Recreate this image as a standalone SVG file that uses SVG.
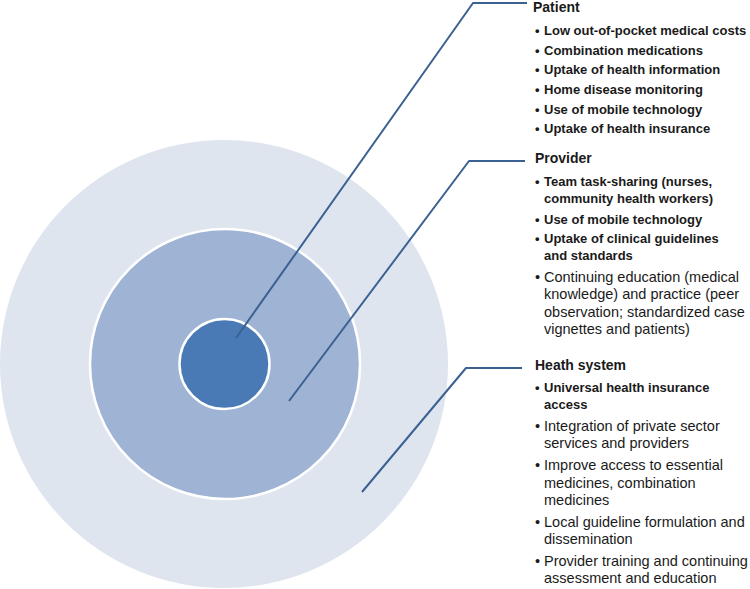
<svg xmlns="http://www.w3.org/2000/svg" width="750" height="589" viewBox="0 0 750 589">
<style>
text{font-family:"Liberation Sans",Arial,sans-serif;fill:#1a1a1a}
.h{font-size:14px;font-weight:bold}
.b{font-size:13px;font-weight:bold}
.r{font-size:14.5px}
.ring{stroke:#ffffff;stroke-width:2.5}
.conn{fill:none;stroke:#3b6192;stroke-width:2;stroke-linejoin:round}
</style>
<rect width="750" height="589" fill="#ffffff"/>
<g id="health-system-ring"><circle cx="224" cy="364" r="224" fill="#dfe5ef"/></g>
<g id="provider-ring"><circle class="ring" cx="225" cy="364" r="135" fill="#9fb3d4"/></g>
<g id="patient-core"><circle class="ring" cx="224.5" cy="364" r="45" fill="#4a7ab5"/></g>
<g id="connectors">
<polyline class="conn" points="236,338 473,3 527,3"/>
<polyline class="conn" points="289,401 469,161 525,161"/>
<polyline class="conn" points="362,492 466,368 522,368"/>
</g>
<g id="patient-label">
<text class="h" x="533" y="12">Patient</text>
<text class="b" x="535" y="35">•<tspan x="544">Low out-of-pocket medical costs</tspan></text>
<text class="b" x="535" y="54.5">•<tspan x="544">Combination medications</tspan></text>
<text class="b" x="535" y="74">•<tspan x="544">Uptake of health information</tspan></text>
<text class="b" x="535" y="94">•<tspan x="544">Home disease monitoring</tspan></text>
<text class="b" x="535" y="113.5">•<tspan x="544">Use of mobile technology</tspan></text>
<text class="b" x="535" y="133">•<tspan x="544">Uptake of health insurance</tspan></text>
</g>
<g id="provider-label">
<text class="h" x="535" y="163">Provider</text>
<text class="b" x="535" y="186">•<tspan x="544">Team task-sharing (nurses,</tspan></text>
<text class="b" x="544" y="203">community health workers)</text>
<text class="b" x="535" y="224">•<tspan x="544">Use of mobile technology</tspan></text>
<text class="b" x="535" y="243">•<tspan x="544">Uptake of clinical guidelines</tspan></text>
<text class="b" x="544" y="260">and standards</text>
<text class="r" x="535" y="282">•<tspan x="544">Continuing education (medical</tspan></text>
<text class="r" x="544" y="299">knowledge) and practice (peer</text>
<text class="r" x="544" y="317">observation; standardized case</text>
<text class="r" x="544" y="334">vignettes and patients)</text>
</g>
<g id="health-system-label">
<text class="h" x="535" y="370">Heath system</text>
<text class="b" x="535" y="392">•<tspan x="544">Universal health insurance</tspan></text>
<text class="b" x="544" y="409">access</text>
<text class="r" x="535" y="431">•<tspan x="544">Integration of private sector</tspan></text>
<text class="r" x="544" y="448">services and providers</text>
<text class="r" x="535" y="470">•<tspan x="544">Improve access to essential</tspan></text>
<text class="r" x="544" y="488">medicines, combination</text>
<text class="r" x="544" y="505">medicines</text>
<text class="r" x="535" y="527">•<tspan x="544">Local guideline formulation and</tspan></text>
<text class="r" x="544" y="544">dissemination</text>
<text class="r" x="535" y="566">•<tspan x="544">Provider training and continuing</tspan></text>
<text class="r" x="544" y="583">assessment and education</text>
</g>
</svg>
